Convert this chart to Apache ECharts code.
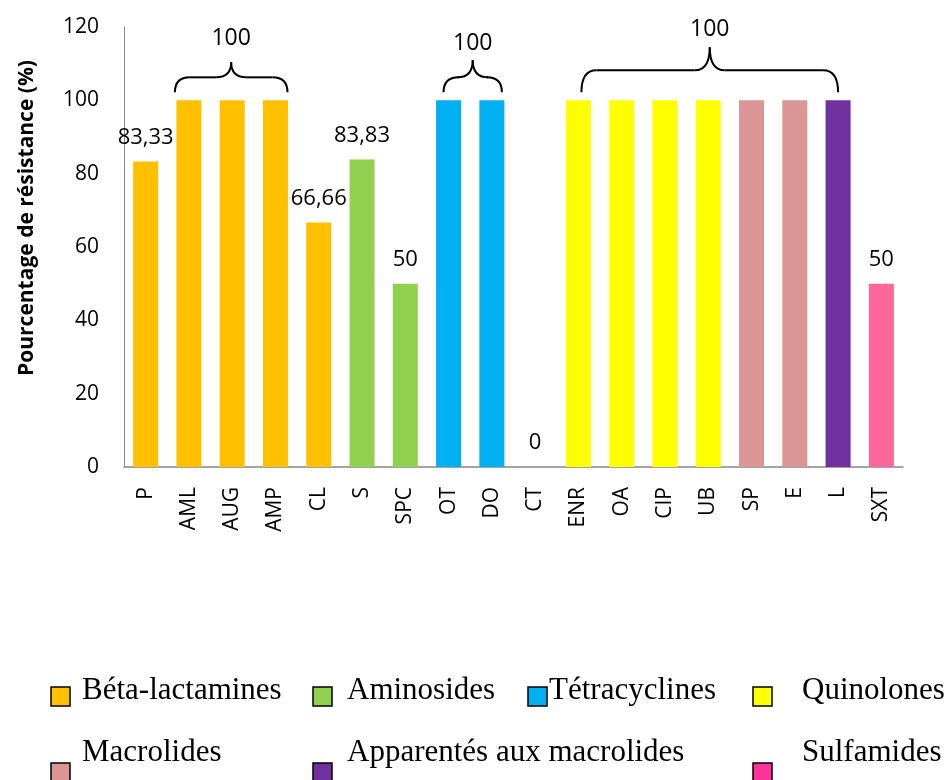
<html>
<head>
    <meta charset="utf-8">
    <title>Résistance</title>
    <script src="https://cdn.jsdelivr.net/npm/echarts@6/dist/echarts.min.js"></script>
    <style>
        body { margin: 0; background: #fff; }
    </style>
</head>
<body>
<div id="chartmain" style="width:950px; height:780px;"></div>
<script type="text/javascript">
    // data
    var categories = ['P', 'AML', 'AUG', 'AMP', 'CL', 'S', 'SPC', 'OT', 'DO', 'CT',
        'ENR', 'OA', 'CIP', 'UB', 'SP', 'E', 'L', 'SXT'];
    var values = [83.33, 100, 100, 100, 66.66, 83.83, 50, 100, 100, 0,
        100, 100, 100, 100, 100, 100, 100, 50];
    var dataLabels = ['83,33', '', '', '', '66,66', '83,83', '50', '', '', '0',
        '', '', '', '', '', '', '', '50'];
    // family of each antibiotic (index into families)
    var familyOf = [0, 0, 0, 0, 0, 1, 1, 2, 2, 2, 3, 3, 3, 3, 4, 4, 5, 6];
    var families = ['Béta-lactamines', 'Aminosides', 'Tétracyclines', 'Quinolones',
        'Macrolides', 'Apparentés aux macrolides', 'Sulfamides'];
    var barColors = ['#FFC000', '#92D050', '#00B0F0', '#FFFF00', '#D99694', '#7030A0', '#FF6699'];
    var legendColors = ['#FFC000', '#92D050', '#00B0F0', '#FFFF00', '#D99694', '#7030A0', '#FF3399'];
    // braces: first bar, last bar, label
    var braces = [[1, 3, '100'], [7, 8, '100'], [10, 16, '100']];

    var myChart = echarts.init(document.getElementById('chartmain'));

    var barData = values.map(function (v, i) {
        return { value: v, itemStyle: { color: barColors[familyOf[i]] } };
    });

    myChart.setOption({
        animation: false,
        grid: { left: 124, right: 47, top: 27, bottom: 313 },
        xAxis: {
            type: 'category',
            data: categories,
            axisLine: { lineStyle: { color: '#868686', width: 1.5 } },
            axisTick: { show: false },
            axisLabel: {
                rotate: 90, margin: 20, color: '#000',
                fontFamily: 'Open Sans', fontSize: 21, interval: 0
            }
        },
        yAxis: {
            type: 'value',
            min: 0, max: 120, interval: 20,
            name: 'Pourcentage de résistance (%)',
            nameLocation: 'middle',
            nameGap: 86,
            nameTextStyle: {
                fontFamily: 'Open Sans', fontWeight: 'bold', fontSize: 21,
                color: '#000', padding: [0, 0, 0, 58]
            },
            axisLine: { show: true, lineStyle: { color: '#868686', width: 1 } },
            axisTick: { show: false },
            splitLine: { show: false },
            axisLabel: { margin: 25, color: '#000', fontFamily: 'Open Sans', fontSize: 21 }
        },
        series: [{
            type: 'bar',
            barWidth: 25,
            data: barData,
            label: {
                show: true,
                position: 'top',
                distance: 13,
                color: '#000',
                fontFamily: 'Open Sans',
                fontSize: 22,
                formatter: function (p) { return dataLabels[p.dataIndex]; }
            }
        }]
    });

    // braces above groups at 100 %
    var braceShape = [
        { padL: -14, padR: 12, flat: 23, peak: 38, text: 62 },
        { padL: -5, padR: 10, flat: 23, peak: 40, text: 57 },
        { padL: 3, padR: 0, flat: 30, peak: 53, text: 71 }
    ];
    var graphics = [];
    var braceLine = { fill: null, stroke: '#000', lineWidth: 2 };
    function curve(x1, y1, cx, cy, x2, y2) {
        graphics.push({
            type: 'bezierCurve',
            shape: { x1: x1, y1: y1, cpx1: cx, cpy1: cy, x2: x2, y2: y2 },
            style: braceLine
        });
    }
    function line(x1, y1, x2, y2) {
        graphics.push({
            type: 'line',
            shape: { x1: x1, y1: y1, x2: x2, y2: y2 },
            style: braceLine
        });
    }
    braces.forEach(function (b, k) {
        var s = braceShape[k];
        var x0 = myChart.convertToPixel({ xAxisIndex: 0 }, b[0]) + s.padL;
        var x1 = myChart.convertToPixel({ xAxisIndex: 0 }, b[1]) + s.padR;
        var top = myChart.convertToPixel({ yAxisIndex: 0 }, values[b[0]]);
        var yEnd = top - 8, yFlat = top - s.flat, yPeak = top - s.peak;
        var xm = (x0 + x1) / 2;
        var r = 15;
        curve(x0, yEnd, x0, yFlat, x0 + r, yFlat);
        line(x0 + r, yFlat, xm - r, yFlat);
        curve(xm - r, yFlat, xm, yFlat, xm, yPeak);
        curve(xm, yPeak, xm, yFlat, xm + r, yFlat);
        line(xm + r, yFlat, x1 - r, yFlat);
        curve(x1 - r, yFlat, x1, yFlat, x1, yEnd);
        graphics.push({
            type: 'text',
            x: xm, y: top - s.text,
            style: {
                text: b[2], fill: '#000', font: '23px "Open Sans"',
                align: 'center', verticalAlign: 'middle'
            }
        });
    });

    // legend (two rows, like the original)
    var legendPos = [[51, 687], [313, 687], [528, 687], [753, 687],
        [51, 763], [313, 763], [753, 763]];
    var legendTextX = [82, 347, 549, 802, 82, 347, 802];
    families.forEach(function (name, i) {
        var p = legendPos[i];
        graphics.push({
            type: 'rect',
            shape: { x: p[0], y: p[1], width: 19, height: 19 },
            style: { fill: legendColors[i], stroke: '#000', lineWidth: 1.5 }
        });
        graphics.push({
            type: 'text',
            x: legendTextX[i], y: p[1] + (i < 4 ? 4 : -10),
            style: {
                text: name, fill: '#000', font: '31px "Liberation Serif"',
                align: 'left', verticalAlign: 'middle'
            }
        });
    });

    myChart.setOption({ graphic: graphics });
</script>
</body>
</html>
